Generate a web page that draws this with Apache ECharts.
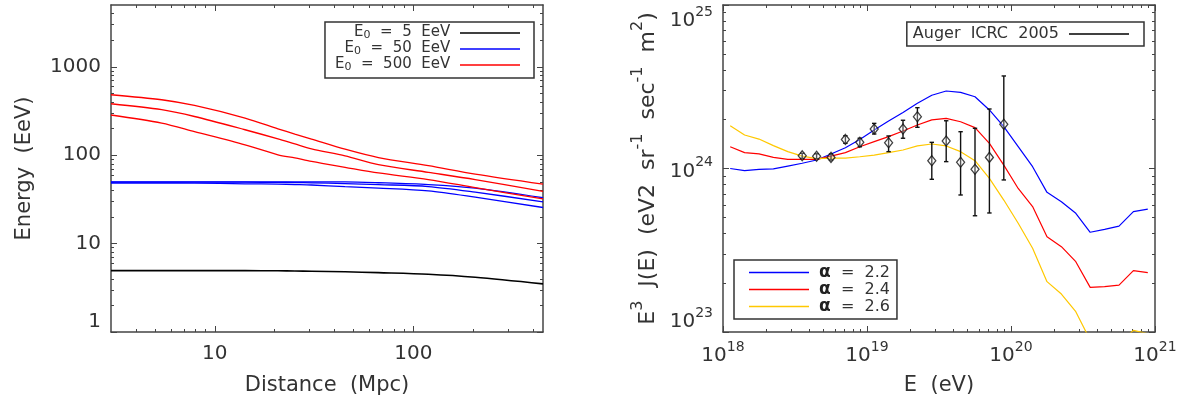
<!DOCTYPE html>
<html><head><meta charset="utf-8">
<script src="https://cdn.jsdelivr.net/npm/echarts@6/dist/echarts.min.js"></script>
<style>html,body{margin:0;padding:0;background:#fff}#c{width:1186px;height:400px}</style>
</head><body><div id="c"></div>
<script>
// ---------------- Left panel data ----------------
const distance = [3, 5.4, 7.9, 14.2, 20.8, 25.3, 30.7, 45.3, 66.7, 119, 205, 450];
const energy5 = [4.94, 4.94, 4.94, 4.94, 4.93, 4.9, 4.87, 4.8, 4.69, 4.5, 4.16, 3.5];
const energy50a = [50, 50, 50, 50, 50, 50, 49.8, 49.8, 48.8, 46.5, 42.4, 33];
const energy50b = [49.5, 49.5, 49.5, 49.5, 49.2, 49, 48.7, 47.8, 46.5, 44.2, 38.2, 29.7];
const energy50c = [48.5, 48.5, 48.3, 47.5, 47, 46.5, 46, 44, 42.5, 39.5, 33.5, 25.6];
const energy500a = [483, 424, 365, 263, 199, 173, 152, 117, 94, 76, 61, 47];
const energy500b = [382, 327, 274, 194, 153, 134, 118, 98, 78, 64, 53, 39];
const energy500c = [285, 231, 185, 131, 101, 93, 85, 73, 63, 53, 43, 32];
const leftLegendNames = ['E0 = 5 EeV', 'E0 = 50 EeV', 'E0 = 500 EeV'];
const leftXTicks = [10, 100];
const leftXMinor = [4, 5, 6, 7, 8, 9, 20, 30, 40, 50, 60, 70, 80, 90, 200, 300, 400];
const leftYTicks = [1, 10, 100, 1000];
const leftYMinor = [2, 3, 4, 5, 6, 7, 8, 9, 20, 30, 40, 50, 60, 70, 80, 90, 200, 300, 400, 500, 600, 700, 800, 900, 2000, 3000, 4000];

// ---------------- Right panel data (log10 values) ----------------
const logE_model = [18.05, 18.15, 18.25, 18.35, 18.45, 18.55, 18.65, 18.75, 18.85, 18.95,
  19.05, 19.15, 19.25, 19.35, 19.45, 19.55, 19.65, 19.75, 19.85, 19.95,
  20.05, 20.15, 20.25, 20.35, 20.45, 20.55, 20.65, 20.75, 20.85, 20.95];
const logJ_alpha22 = [24.0, 23.987, 23.995, 23.998, 24.015, 24.032, 24.052, 24.089, 24.127, 24.178,
  24.235, 24.29, 24.343, 24.399, 24.448, 24.474, 24.466, 24.439, 24.358, 24.256,
  24.134, 24.011, 23.854, 23.797, 23.726, 23.61, 23.628, 23.648, 23.736, 23.752];
const logJ_alpha24 = [24.133, 24.097, 24.089, 24.068, 24.056, 24.056, 24.056, 24.076, 24.097, 24.133,
  24.164, 24.195, 24.229, 24.266, 24.297, 24.307, 24.286, 24.25, 24.154, 24.021,
  23.878, 23.767, 23.583, 23.522, 23.43, 23.273, 23.277, 23.287, 23.375, 23.363];
const logJ_alpha26 = [24.262, 24.205, 24.18, 24.14, 24.103, 24.076, 24.06, 24.064, 24.063, 24.072,
  24.082, 24.097, 24.113, 24.138, 24.15, 24.138, 24.103, 24.048, 23.94, 23.807,
  23.665, 23.512, 23.308, 23.232, 23.124, 22.95, 22.9, 22.93, 23.01, 22.99];
const alphaNames = ['α = 2.2', 'α = 2.4', 'α = 2.6'];
const logE_auger = [18.55, 18.65, 18.75, 18.85, 18.95, 19.05, 19.15, 19.25, 19.35, 19.45, 19.55, 19.65, 19.75, 19.85, 19.95];
const logJ_auger = [24.078, 24.075, 24.068, 24.178, 24.16, 24.242, 24.158, 24.242, 24.317, 24.048, 24.168, 24.038, 23.995, 24.068, 24.27];
const logJ_augerLow = [24.062, 24.06, 24.052, 24.154, 24.133, 24.211, 24.103, 24.185, 24.252, 23.934, 24.042, 23.838, 23.711, 23.728, 23.93];
const logJ_augerHigh = [24.093, 24.09, 24.089, 24.2, 24.185, 24.276, 24.199, 24.295, 24.372, 24.16, 24.292, 24.225, 24.246, 24.364, 24.566];
const augerName = 'Auger ICRC 2005';
const rightXTickExp = [18, 19, 20, 21];
const rightYTickExp = [23, 24, 25];
const minorMult = [2, 3, 4, 5, 6, 7, 8, 9];

// ---------------- helpers ----------------
const FONT = 'DejaVu Sans';
const AX = '#444';
const TX = '#333';
const p10 = v => Math.pow(10, v);
// tiny inward nudge so the end ticks survive float rounding at the axis extent
const tickVals = exps => exps.map((e, i) => p10(e) * (i === exps.length - 1 ? (1 - 1e-9) : (i === 0 ? (1 + 1e-9) : 1)));
const rightXTicks = tickVals(rightXTickExp);
const rightYTicks = tickVals(rightYTickExp);
const rightXMinor = [], rightYMinor = [];
rightXTickExp.slice(0, -1).forEach(e => minorMult.forEach(m => rightXMinor.push(m * p10(e))));
rightYTickExp.slice(0, -1).forEach(e => minorMult.forEach(m => rightYMinor.push(m * p10(e))));

function axisSet(dim, gridIndex, min, max, major, minor, labelOpt, nameOpt) {
  const sides = dim === 'x' ? ['bottom', 'top'] : ['left', 'right'];
  const out = [];
  sides.forEach((pos, si) => {
    [major, minor].forEach((vals, mi) => {
      const a = {
        type: 'log', logBase: 10, gridIndex, position: pos, min, max,
        axisLine: { show: mi === 0, onZero: false, lineStyle: { color: AX, width: 1.5 } },
        axisTick: { show: true, inside: true, length: mi === 0 ? 6 : 3, customValues: vals, lineStyle: { color: AX, width: 1 } },
        axisLabel: { show: false },
        splitLine: { show: false }, minorTick: { show: false }, minorSplitLine: { show: false },
        nameMoveOverlap: false
      };
      if (si === 0 && mi === 0) { a.axisLabel = labelOpt; Object.assign(a, nameOpt); }
      out.push(a);
    });
  });
  return out;
}

const supRich = {
  b: { fontFamily: FONT, fontSize: 20, color: TX, lineHeight: 26, verticalAlign: 'bottom' },
  s: { fontFamily: FONT, fontSize: 14, color: TX, lineHeight: 14, verticalAlign: 'top' }
};
const powLabel = v => '{b|10}{s|' + Math.round(Math.log10(v)) + '}';

const xAxes = [].concat(
  axisSet('x', 0, 3, 450, leftXTicks, leftXMinor,
    { show: true, customValues: leftXTicks, fontFamily: FONT, fontSize: 20, color: TX, margin: 12, formatter: v => String(Math.round(v)) },
    { name: 'Distance  (Mpc)', nameLocation: 'middle', nameGap: 43, nameTextStyle: { fontFamily: FONT, fontSize: 21, color: TX } }),
  axisSet('x', 1, 1e18, 1e21, rightXTicks, rightXMinor,
    { show: true, customValues: rightXTicks, margin: 8, formatter: powLabel, rich: supRich },
    { name: 'E  (eV)', nameLocation: 'middle', nameGap: 43, nameTextStyle: { fontFamily: FONT, fontSize: 21, color: TX } })
);
const yAxes = [].concat(
  axisSet('y', 0, 1, 5000, leftYTicks, leftYMinor,
    { show: true, customValues: leftYTicks, fontFamily: FONT, fontSize: 20, color: TX, margin: 10, formatter: v => String(Math.round(v)),
      verticalAlignMinLabel: 'bottom' },
    { name: 'Energy  (EeV)', nameLocation: 'middle', nameGap: 76, nameTextStyle: { fontFamily: FONT, fontSize: 21, color: TX } }),
  axisSet('y', 1, 1e23, 1e25, rightYTicks, rightYMinor,
    { show: true, customValues: rightYTicks, margin: 10, formatter: powLabel, rich: supRich,
      verticalAlignMinLabel: 'bottom', verticalAlignMaxLabel: 'top' },
    { name: '{b|E}{s|3}{b|  J(E)  (eV2  sr}{s|-1}{b|  sec}{s|-1}{b|  m}{s|2}{b|)}', nameLocation: 'middle', nameGap: 64,
      nameTextStyle: { fontFamily: FONT, fontSize: 22, color: TX, rich: {
        b: { fontFamily: FONT, fontSize: 22, color: TX, lineHeight: 29, verticalAlign: 'bottom' },
        s: { fontFamily: FONT, fontSize: 16, color: TX, lineHeight: 16, verticalAlign: 'top' } } } })
);

const zip = (xs, ys) => xs.map((x, i) => [x, ys[i]]);
const zipLog = (xs, ys) => xs.map((x, i) => [p10(x), p10(ys[i])]);

function lineSeries(name, color, data, xi, yi, width, smooth) {
  return {
    type: 'line', name, xAxisIndex: xi, yAxisIndex: yi, data, color,
    symbol: 'none', showSymbol: false, smooth: smooth,
    lineStyle: { color, width }, itemStyle: { color }, clip: true, z: 3
  };
}

const BLUE = '#0000ff', RED = '#ff0000', YEL = '#ffc800', BLK = '#000000';
const series = [
  lineSeries(leftLegendNames[0], BLK, zip(distance, energy5), 0, 0, 1.6, 0.3),
  lineSeries(leftLegendNames[1], BLUE, zip(distance, energy50a), 0, 0, 1.3, 0.3),
  lineSeries('E0 = 50 EeV b', BLUE, zip(distance, energy50b), 0, 0, 1.3, 0.3),
  lineSeries('E0 = 50 EeV c', BLUE, zip(distance, energy50c), 0, 0, 1.3, 0.3),
  lineSeries(leftLegendNames[2], RED, zip(distance, energy500a), 0, 0, 1.3, 0.3),
  lineSeries('E0 = 500 EeV b', RED, zip(distance, energy500b), 0, 0, 1.3, 0.3),
  lineSeries('E0 = 500 EeV c', RED, zip(distance, energy500c), 0, 0, 1.3, 0.3),
  lineSeries(alphaNames[0], BLUE, zipLog(logE_model, logJ_alpha22), 4, 4, 1.2, false),
  lineSeries(alphaNames[1], RED, zipLog(logE_model, logJ_alpha24), 4, 4, 1.2, false),
  lineSeries(alphaNames[2], YEL, zipLog(logE_model, logJ_alpha26), 4, 4, 1.2, false),
  {
    type: 'custom', name: augerName, xAxisIndex: 4, yAxisIndex: 4, z: 5,
    itemStyle: { color: BLK }, color: BLK,
    data: logE_auger.map((e, i) => [p10(e), p10(logJ_augerLow[i]), p10(logJ_augerHigh[i])]),
    encode: { x: 0, y: [1, 2] },
    renderItem: (params, api) => {
      const x = api.value(0);
      const a = api.coord([x, api.value(1)]);
      const b = api.coord([x, api.value(2)]);
      const w = 2.2;
      const st = { stroke: '#111', lineWidth: 1.4 };
      return { type: 'group', children: [
        { type: 'line', shape: { x1: a[0], y1: a[1], x2: b[0], y2: b[1] }, style: st },
        { type: 'line', shape: { x1: a[0] - w, y1: a[1], x2: a[0] + w, y2: a[1] }, style: st },
        { type: 'line', shape: { x1: b[0] - w, y1: b[1], x2: b[0] + w, y2: b[1] }, style: st }
      ] };
    }
  },
  {
    type: 'scatter', name: 'Auger points', xAxisIndex: 4, yAxisIndex: 4, z: 6,
    data: zipLog(logE_auger, logJ_auger), symbol: 'diamond', symbolSize: [8, 10],
    itemStyle: { color: 'rgba(255,255,255,0.35)', borderColor: '#111', borderWidth: 1.3 }
  }
];

const legBase = {
  orient: 'vertical', itemGap: 0, itemWidth: 60, itemHeight: 1.5, icon: 'rect',
  borderColor: '#333', borderWidth: 1.5, backgroundColor: '#fff', selectedMode: false
};
const legendLeft = Object.assign({}, legBase, {
  data: leftLegendNames, align: 'right', right: 652, top: 22, padding: [3, 14, 5, 10],
  formatter: n => '{b|E}{sub|0}{b|' + n.slice(2).replace(/ /g, '  ') + ' }',
  textStyle: { fontFamily: FONT, fontSize: 15, color: TX, rich: {
    b: { fontFamily: FONT, fontSize: 15, color: TX, lineHeight: 16, verticalAlign: 'top' },
    sub: { fontFamily: FONT, fontSize: 11, color: TX, lineHeight: 9, verticalAlign: 'bottom' } } }
});
const legendAuger = Object.assign({}, legBase, {
  data: [augerName], align: 'right', right: 42, top: 22, padding: [4, 15, 4, 6],
  formatter: n => n.replace(/ /g, '  ') + ' ',
  textStyle: { fontFamily: FONT, fontSize: 16, color: TX, lineHeight: 16 }
});
const legendAlpha = Object.assign({}, legBase, {
  data: alphaNames, align: 'left', left: 734, top: 260, padding: [4, 7, 4, 15],
  formatter: n => ' {a|α}{b|' + n.slice(1).replace(/ /g, '  ') + '}',
  textStyle: { fontFamily: FONT, fontSize: 16, color: TX, rich: {
    a: { fontFamily: FONT, fontSize: 17, color: '#222', lineHeight: 16, fontWeight: 'bold' },
    b: { fontFamily: FONT, fontSize: 16, color: TX, lineHeight: 16 } } }
});

const chart = echarts.init(document.getElementById('c'), null, { renderer: 'canvas' });
chart.setOption({
  animation: false,
  backgroundColor: '#fff',
  grid: [
    { left: 111, top: 5, width: 432, height: 327, containLabel: false, outerBoundsMode: 'none' },
    { left: 723, top: 5, width: 432, height: 327, containLabel: false, outerBoundsMode: 'none' }
  ],
  xAxis: xAxes,
  yAxis: yAxes,
  legend: [legendLeft, legendAuger, legendAlpha],
  series
});
</script></body></html>
